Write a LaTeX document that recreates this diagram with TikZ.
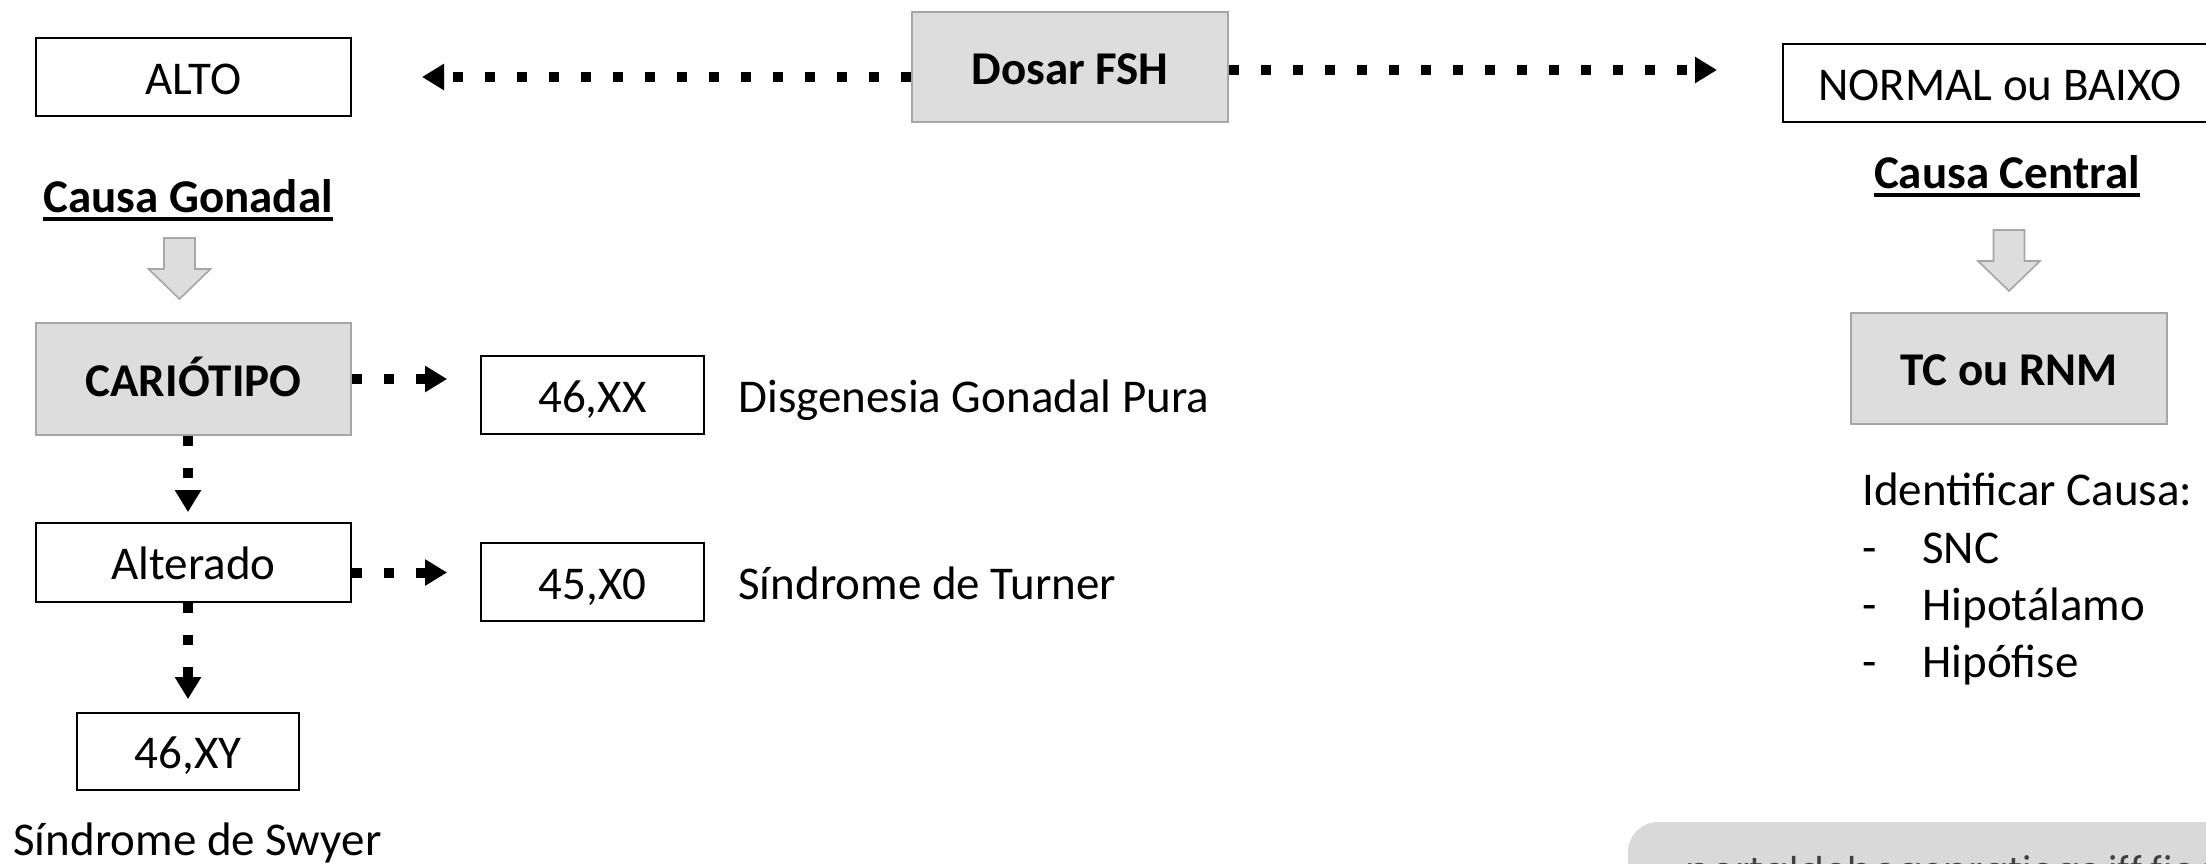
\documentclass[tikz,border=0pt]{standalone}
\usepackage{fontspec}
\setmainfont{Carlito}
\newfontfamily\footfont{Poppins}
\usetikzlibrary{arrows.meta,calc}
\definecolor{boxgray}{HTML}{DDDDDD}
\definecolor{edgegray}{HTML}{A6A6A6}
\definecolor{footgray}{HTML}{D9D9D9}
\definecolor{foottext}{HTML}{404040}
\begin{document}
\begin{tikzpicture}[x=0.5pt,y=-0.5pt,
  every node/.style={inner sep=0pt, font=\fontsize{23.5}{28}\selectfont},
  boldtxt/.style={font=\fontsize{23.5}{28}\selectfont\bfseries},
  tbox/.style={text height=17pt, text depth=0pt, minimum height=39pt},
  wbox/.style={tbox, draw=black, line width=0.9pt, fill=white},
  gbox/.style={tbox, draw=edgegray, fill=boxgray, line width=1.4pt, boldtxt},
  dotarrow/.style={line width=5pt, dash pattern=on 5pt off 11pt,
    -{Triangle[length=11pt,width=12.5pt]}},
  uline/.style={line width=2pt},
  blockarrow/.pic={\draw[fill=boxgray, draw=edgegray, line width=0.8pt, line join=miter]
     (-15.5,0) -- (15.5,0) -- (15.5,31) -- (31,31) -- (0,61) -- (-31,31) -- (-15.5,31) -- cycle;}
]
\useasboundingbox (0,0) rectangle (2206,863);

% boxes
\node[wbox, minimum width=157.5pt] (alto) at (193.5,77) {ALTO};
\node[gbox, minimum width=158pt, minimum height=55pt] (fsh) at (1070,67) {Dosar FSH};
\node[wbox, minimum width=230pt] (normal) at (2013,83) {\hspace*{-13pt}NORMAL ou BAIXO};
\node[gbox, minimum width=157.5pt, minimum height=56pt] (cario) at (193.5,379) {CARIÓTIPO};
\node[wbox, minimum width=111.5pt] (xx) at (592.5,395) {46,XX};
\node[wbox, minimum width=157.5pt, minimum height=39.5pt] (alt) at (193.5,562.5) {Alterado};
\node[wbox, minimum width=111.5pt] (xo) at (592.5,582) {45,X0};
\node[wbox, minimum width=111pt, minimum height=38.5pt] (xy) at (188,751.5) {46,XY};
\node[gbox, minimum width=158pt, minimum height=55.5pt] (tc) at (2009,368.5) {TC ou RNM};

% headings
\node[boldtxt, anchor=base] (cg) at (188,212) {Causa Gonadal};
\draw[uline] ([yshift=-3.5pt]cg.base west) -- ([yshift=-3.5pt]cg.base east);
\node[boldtxt, anchor=base] (cc) at (2007,188) {Causa Central};
\draw[uline] ([yshift=-3.5pt]cc.base west) -- ([yshift=-3.5pt]cc.base east);

% labels
\node[anchor=base west] (dgp) at (738,412) {Disgenesia Gonadal Pura};
\node[anchor=base west] (st) at (738,599) {Síndrome de Turner};
\node[anchor=base west] (ss) at (13,855) {Síndrome de Swyer};

\node[anchor=base west] (id0) at (1862,505) {Identificar Causa:};
\node[anchor=base west] (id1) at (1862,563) {\makebox[30pt][l]{-}SNC};
\node[anchor=base west] (id2) at (1862,620) {\makebox[30pt][l]{-}Hipotálamo};
\node[anchor=base west] (id3) at (1862,677) {\makebox[30pt][l]{-}Hipófise};

% block arrows
\pic at (179.5,238) {blockarrow};
\pic at (2009,230) {blockarrow};

% dotted arrows
\coordinate (tipL) at (422,77);
\coordinate (tipR) at (1717,70);
\draw[dotarrow] (fsh.west |- alto.center) -- (tipL);
\draw[dotarrow] (fsh.east |- tipR) -- (tipR);
\draw[dotarrow] (cario.east) -- ($(xx.west |- cario.east)+(-33,0)$);
\draw[dotarrow] ($(alt.east)+(0,10)$) -- ($(xo.west |- alt.east)+(-33,10)$);
\draw[dotarrow] (cario.south -| xy.north) -- ($(alt.north -| xy.north)+(0,-10)$);
\draw[dotarrow] (alt.south -| xy.north) -- ($(xy.north)+(0,-13)$);

% footer
\fill[footgray, rounded corners=15pt] (1628,822) rectangle (2300,960);
\node[anchor=base west, font=\footfont\fontsize{19}{22}\selectfont, text=foottext] (url) at (1685,884) {portaldeboaspraticas.iff.fiocruz.br};
\end{tikzpicture}
\end{document}
